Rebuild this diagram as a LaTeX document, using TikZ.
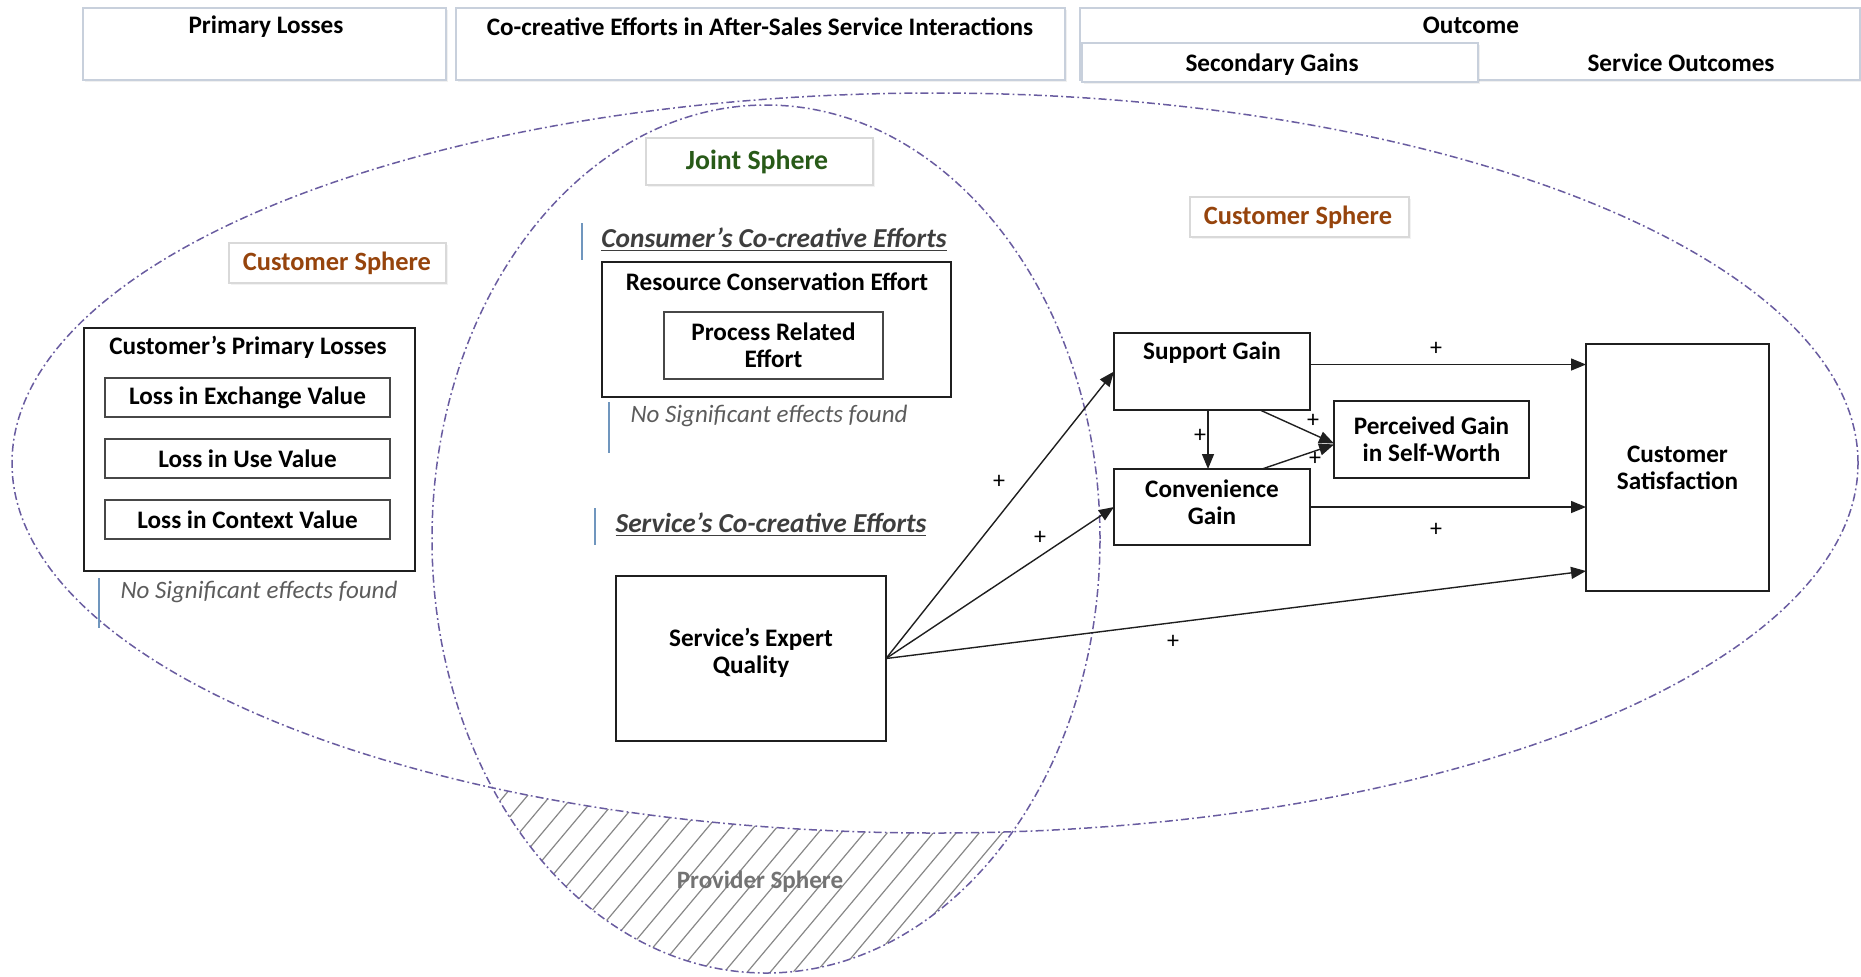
\documentclass[tikz,border=0pt]{standalone}
\usepackage{fontspec}
\setmainfont{Carlito}
\usetikzlibrary{arrows.meta,shadows}

\definecolor{spherecol}{RGB}{105,92,160}
\definecolor{custcol}{RGB}{150,68,12}
\definecolor{jointcol}{RGB}{40,90,24}
\definecolor{barcol}{RGB}{112,150,190}
\definecolor{notecol}{RGB}{92,92,92}
\definecolor{headcol}{RGB}{62,62,62}
\definecolor{framecol}{RGB}{200,208,220}
\definecolor{hatchcol}{RGB}{135,135,135}

\begin{document}
\begin{tikzpicture}[x=0.5pt,y=-0.5pt,
  btxt/.style={font=\fontsize{12.6}{13.5}\selectfont\bfseries, inner sep=0pt, align=center},
  hdrbox/.style={draw=framecol, line width=0.6pt, fill=white, inner sep=0pt, outer sep=0pt,
    drop shadow={opacity=0.12, shadow xshift=0.8pt, shadow yshift=-0.8pt}},
  tagbox/.style={draw=black!15, line width=0.6pt, fill=white, inner sep=0pt, outer sep=0pt,
    drop shadow={opacity=0.10, shadow xshift=0.8pt, shadow yshift=-0.8pt}},
  outerbox/.style={draw=black!88, line width=0.75pt, fill=white, inner sep=0pt, outer sep=0pt},
  innerbox/.style={draw=black!72, line width=0.75pt, fill=white, inner sep=0pt, outer sep=0pt,
    font=\fontsize{12.6}{13.5}\selectfont\bfseries, align=center},
  sphere/.style={draw=spherecol, line width=0.75pt, dash pattern=on 4pt off 1.6pt on 0.9pt off 1.6pt},
  hatchline/.style={draw=hatchcol, line width=0.6pt},
  custtag/.style={font=\fontsize{13.2}{15}\selectfont\bfseries, text=custcol, inner sep=0pt},
  cotitle/.style={font=\fontsize{13.7}{16}\selectfont\bfseries\itshape, text=headcol, inner sep=0pt},
  note/.style={font=\fontsize{12.5}{15}\selectfont\itshape, text=notecol, inner sep=0pt},
  qbar/.style={draw=barcol, line width=0.7pt},
  link/.style={draw=black!88, line width=0.7pt, -{Triangle[length=7.5pt,width=6pt]}},
  plus/.style={font=\fontsize{12}{14}\selectfont, inner sep=0pt}
]
\useasboundingbox (0,0) rectangle (1861,976);

% column headers
\node[hdrbox, minimum width=181.5pt, minimum height=36pt] (hpl) at (264.5,44) {};
\node[hdrbox, minimum width=304.5pt, minimum height=36pt] (hcc) at (760.5,44) {};
\node[hdrbox, minimum width=390pt, minimum height=36pt] (hout) at (1470,44) {};
\node[hdrbox, minimum width=198pt, minimum height=19.5pt] (hsec) at (1280,62.5) {};
\node[btxt] (tpl) at (266,27) {Primary Losses};
\node[btxt] (tcc) at (760,27) {Co-creative Efforts in After-Sales Service Interactions};
\node[btxt] (tout) at (1471,25) {Outcome};
\node[btxt] (tsec) at (1272,65) {Secondary Gains};
\node[btxt] (tso) at (1681,63) {Service Outcomes};

% provider sphere: part of the joint sphere outside the customer sphere
\begin{scope}
  \clip (766,539) ellipse [x radius=167pt, y radius=217pt];
  \begin{scope}[even odd rule]
    \clip (-10,-10) rectangle (1871,986) (935,463) ellipse [x radius=461.5pt, y radius=185pt];
    \foreach \a in {330,353,...,910} \draw[hatchline] (\a,976) -- ++(173,-206);
  \end{scope}
\end{scope}

% spheres
\draw[sphere] (935,463) ellipse [x radius=461.5pt, y radius=185pt];
\draw[sphere] (766,539) ellipse [x radius=167pt, y radius=217pt];
\node[font=\fontsize{12.5}{15}\selectfont\bfseries, text=black!55, inner sep=0pt] (prov) at (760,882) {Provider Sphere};

% sphere tags
\node[tagbox, minimum width=108.5pt, minimum height=20pt] (csl) at (337.5,263) {};
\node[custtag] (cslt) at (337,263) {Customer Sphere};
\node[tagbox, minimum width=113.5pt, minimum height=23.5pt] (js) at (759.5,161.5) {};
\node[font=\fontsize{13.9}{16}\selectfont\bfseries, text=jointcol, inner sep=0pt] (jst) at (757,162) {Joint Sphere};
\node[tagbox, minimum width=109.5pt, minimum height=20pt] (csr) at (1299.5,217) {};
\node[custtag] (csrt) at (1298,217) {Customer Sphere};

% primary losses
\node[outerbox, minimum width=165.5pt, minimum height=121.5pt] (cpl) at (249.5,449.5) {};
\node[btxt] (cplt) at (248,347) {Customer’s Primary Losses};
\node[innerbox, minimum width=142.5pt, minimum height=19.5pt] (lev) at (247.5,397.5) {Loss in Exchange Value};
\node[innerbox, minimum width=142.5pt, minimum height=19.5pt] (luv) at (247.5,458.5) {Loss in Use Value};
\node[innerbox, minimum width=142.5pt, minimum height=19.5pt] (lcv) at (247.5,519.5) {Loss in Context Value};
\draw[qbar] (99,578) -- (99,628);
\node[note] (nsfa) at (259,592) {No Significant effects found};

% consumer's co-creative efforts
\draw[qbar] (582,223) -- (582,260);
\node[cotitle] (cce) at (774,240) {\underline{Consumer’s Co-creative Efforts}};
\node[outerbox, minimum width=174.5pt, minimum height=67.5pt] (rce) at (776.5,329.5) {};
\node[btxt] (rcet) at (777,282) {Resource Conservation Effort};
\node[innerbox, minimum width=109.5pt, minimum height=33.5pt] (pre) at (773.5,345.5) {Process Related\\Effort};
\draw[qbar] (609,402) -- (609,453);
\node[note] (nsfb) at (769,416) {No Significant effects found};

% service's co-creative efforts
\draw[qbar] (595,508) -- (595,545);
\node[cotitle] (sce) at (771,525) {\underline{Service’s Co-creative Efforts}};
\node[outerbox, minimum width=135pt, minimum height=82.5pt] (seq) at (751,658.5) {};
\node[btxt] (seqt) at (751,653) {Service’s Expert\\Quality};

% gains and outcome
\node[outerbox, minimum width=98pt, minimum height=38.5pt] (sg) at (1212,371.5) {};
\node[btxt] (sgt) at (1212,353) {Support Gain};
\node[outerbox, minimum width=98pt, minimum height=38pt] (cg) at (1212,507) {};
\node[btxt] (cgt) at (1212,502) {Convenience\\Gain};
\node[outerbox, minimum width=97.5pt, minimum height=38.5pt, btxt] (pg) at (1431.5,439.5) {Perceived Gain\\in Self-Worth};
\node[outerbox, minimum width=91.5pt, minimum height=123.5pt, btxt] (cs) at (1677.5,467.5) {Customer\\Satisfaction};

% paths
\draw[link] (seq.east) -- (sg.west);
\draw[link] (seq.east) -- (cg.west);
\draw[link] (seq.east) -- ([yshift=10pt]cs.south west);
\draw[link] ([yshift=3.5pt]sg.east) -- ([yshift=3.5pt]sg.east -| cs.west);
\draw[link] (cg.east) -- (cg.east -| cs.west);
\draw[link] ([xshift=-2pt]sg.south) -- ([xshift=-2pt]cg.north);
\draw[link] ([xshift=24pt]sg.south) -- ([yshift=-2pt]pg.west);
\draw[link] ([xshift=25pt]cg.north) -- ([yshift=-2.5pt]pg.west);

% signs
\node[plus] (pa) at (999,482) {+};
\node[plus] (pb) at (1040,538) {+};
\node[plus] (pc) at (1173,642) {+};
\node[plus] (pd) at (1436,349) {+};
\node[plus] (pe) at (1436,530) {+};
\node[plus] (pf) at (1200,436) {+};
\node[plus] (pg1) at (1313,421) {+};
\node[plus] (ph) at (1315,459) {+};
\end{tikzpicture}
\end{document}
